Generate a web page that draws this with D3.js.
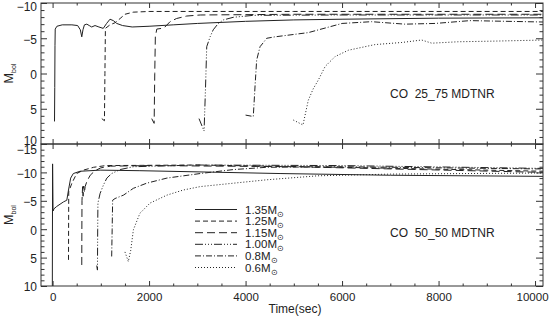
<!DOCTYPE html>
<html>
<head>
<meta charset="utf-8">
<script src="https://cdn.jsdelivr.net/npm/d3@7"></script>
<style>
  body { margin: 0; background: #fff; }
  svg text { font-family: "Liberation Sans", Arial, Helvetica, sans-serif; fill: #222; }
</style>
</head>
<body>
<div id="chart"></div>
<script>
// masses in the legend (same order as the line styles)
var masses = ["1.35", "1.25", "1.15", "1.00", "0.8", "0.6"];
var dashes = [null, "5,3", "8,4", "8,2,1,2,1,2,1,2", "6,2,1,2", "1,2"];

// x ticks
var xMajor = [0, 2000, 4000, 6000, 8000, 10000];

// CO 25_75 MDTNR  [time(sec), Mbol]
var co2575_135 = [[40,6.8],[45,2],[50,-4],[55,-6.3],[90,-6.7],[200,-6.9],[400,-6.9],[520,-6.8],[575,-6.2],[605,-5.2],[630,-6.2],[660,-6.9],[710,-7.0],[760,-6.8],[810,-6.6],[880,-6.8],[960,-6.6],[1050,-6.4],[1120,-7.1],[1190,-7.7],[1260,-7.5],[1330,-7.1],[1450,-6.8],[1650,-6.6],[2000,-6.7],[2500,-6.9],[3000,-7.1],[4000,-7.4],[5000,-7.6],[6000,-7.7],[8000,-7.85],[10200,-7.9]];
var co2575_125 = [[1020,6.4],[1075,6.7],[1085,0],[1095,-6.4],[1190,-6.9],[1295,-7.2],[1400,-7.8],[1500,-8.4],[1670,-8.7],[2000,-8.8],[5000,-8.8],[10200,-8.8]];
var co2575_115 = [[2055,6.4],[2105,7.07],[2118,0],[2130,-5.2],[2160,-6.3],[2260,-6.4],[2330,-6.6],[2435,-7.35],[2570,-7.8],[2780,-8.15],[3060,-8.3],[5000,-8.4],[10200,-8.4]];
var co2575_100 = [[3035,6.4],[3140,8.16],[3170,2],[3195,-3.8],[3265,-5.2],[3330,-6.2],[3435,-7.1],[3540,-7.6],[3745,-7.97],[4160,-8.25],[6000,-8.3],[10200,-8.3]];
var co2575_080 = [[4000,5.9],[4160,6.1],[4200,1.4],[4230,-1.9],[4300,-3.8],[4440,-5.0],[4610,-5.2],[5300,-5.8],[6000,-7.1],[6610,-7.35],[7300,-7.0],[7930,-7.1],[8650,-7.5],[10200,-7.3]];
var co2575_060 = [[4990,6.6],[5190,7.3],[5300,3.8],[5400,2.2],[5510,0.9],[5650,-1.0],[5855,-2.4],[6130,-3.3],[6680,-4.1],[7240,-4.4],[7650,-4.75],[7860,-4.3],[8400,-4.5],[9200,-4.6],[10200,-4.75]];

// CO 50_50 MDTNR  [time(sec), Mbol]
var co5050_135 = [[-5,10],[0,-11.5],[10,-3.2],[30,-3.6],[85,-4.0],[225,-4.8],[295,-5.1],[330,-6.9],[375,-9.0],[430,-9.8],[570,-10.2],[985,-10.4],[1810,-10.3],[4715,-9.8],[7000,-9.5],[10200,-9.3]];
var co5050_125 = [[330,5.4],[332,0],[335,-6.6],[400,-8.1],[500,-9.8],[640,-10.4],[850,-10.9],[1100,-11.2],[3000,-11.3],[6000,-10.9],[10200,-10.2]];
var co5050_115 = [[605,6.3],[607,0],[610,-5.1],[622,-7.5],[632,-5.8],[645,-7.6],[660,-6.4],[675,-7.5],[710,-8.4],[780,-9.5],[880,-10.3],[1000,-10.8],[1200,-11.1],[2000,-11.2],[5000,-11.0],[10200,-10.0]];
var co5050_100 = [[915,6.4],[930,7.2],[935,0],[940,-4.6],[985,-6.3],[1055,-7.8],[1125,-9.0],[1225,-9.8],[1400,-10.5],[1675,-11.0],[3000,-11.3],[6000,-11.2],[10200,-10.7]];
var co5050_080 = [[1225,4.8],[1235,0],[1245,-5.1],[1295,-5.4],[1470,-6.0],[1675,-7.2],[1950,-8.1],[2370,-9.0],[3060,-9.8],[3750,-10.5],[4440,-10.9],[6000,-11.0],[10200,-10.6]];
var co5050_060 = [[1500,4.0],[1570,5.7],[1620,3.7],[1675,0.1],[1810,-2.8],[2020,-4.6],[2370,-6.0],[2710,-6.9],[3060,-7.5],[3750,-8.1],[4440,-8.7],[5500,-9.4],[7000,-9.7],[10200,-9.9]];

var panels = [
  { label: "CO  25_75 MDTNR", yDomain: [-10, 10], yMajor: [-10, -5, 0, 5, 10], top: 3, bottom: 144,
    series: [co2575_135, co2575_125, co2575_115, co2575_100, co2575_080, co2575_060] },
  { label: "CO  50_50 MDTNR", yDomain: [-15, 10], yMajor: [-15, -10, -5, 0, 5, 10], top: 144, bottom: 286,
    series: [co5050_135, co5050_125, co5050_115, co5050_100, co5050_080, co5050_060] }
];

var W = 550, H = 317, L = 41, R = 543;

var svg = d3.select("#chart").append("svg")
    .attr("width", W)
    .attr("height", H);

var x = d3.scaleLinear().domain([-240, 10165]).range([L, R]);
var xMinor = d3.range(0, 10001, 500).filter(function(v){ return v % 2000 != 0; });

var line = d3.line();

panels.forEach(function(p, pi){
  var y = d3.scaleLinear().domain(p.yDomain).range([p.top, p.bottom]);
  var yMinor = d3.range(p.yDomain[0], p.yDomain[1] + 1, 1).filter(function(v){ return v % 5 != 0; });

  svg.append("clipPath").attr("id", "clip" + pi)
    .append("rect").attr("x", L).attr("y", p.top).attr("width", R - L).attr("height", p.bottom - p.top);

  // curves
  var g = svg.append("g").attr("clip-path", "url(#clip" + pi + ")");
  p.series.forEach(function(s, i){
    g.append("path")
      .attr("d", line(s.map(function(d){ return [x(d[0]), y(d[1])]; })))
      .attr("fill", "none")
      .attr("stroke", "#222")
      .attr("stroke-width", 1)
      .attr("stroke-dasharray", dashes[i]);
  });

  // left axis (labels) + right axis, ticks inside
  var left = svg.append("g").attr("transform", "translate(" + L + ",0)")
    .call(d3.axisLeft(y).tickValues(p.yMajor).tickSizeInner(-6).tickSizeOuter(0).tickPadding(4));
  left.selectAll("text").style("font-size", "12px").attr("dy", "0.4em");
  if (pi == 0) {
    left.selectAll("text").filter(function(d){ return d == 10; }).attr("dy", "0.05em");
    left.selectAll("text").filter(function(d){ return d == -10; }).attr("dy", "0.6em");
  }
  if (pi == 1) left.selectAll("text").filter(function(d){ return d == -15; }).attr("dy", "0.75em");
  svg.append("g").attr("transform", "translate(" + L + ",0)")
    .call(d3.axisLeft(y).tickValues(yMinor).tickFormat("").tickSizeInner(-3.5).tickSizeOuter(0));
  svg.append("g").attr("transform", "translate(" + R + ",0)")
    .call(d3.axisRight(y).tickValues(p.yMajor).tickFormat("").tickSizeInner(-7).tickSizeOuter(0));
  svg.append("g").attr("transform", "translate(" + R + ",0)")
    .call(d3.axisRight(y).tickValues(yMinor).tickFormat("").tickSizeInner(-3.5).tickSizeOuter(0));

  // top / bottom x ticks of this panel
  svg.append("g").attr("transform", "translate(0," + p.top + ")")
    .call(d3.axisTop(x).tickValues(xMajor).tickFormat("").tickSizeInner(-5).tickSizeOuter(0));
  svg.append("g").attr("transform", "translate(0," + p.top + ")")
    .call(d3.axisTop(x).tickValues(xMinor).tickFormat("").tickSizeInner(-2.5).tickSizeOuter(0));
  var bx = svg.append("g").attr("transform", "translate(0," + p.bottom + ")")
    .call(d3.axisBottom(x).tickValues(xMajor).tickFormat(pi == 1 ? d3.format("d") : "").tickSizeInner(-5).tickSizeOuter(0).tickPadding(7));
  bx.selectAll("text").style("font-size", "11.5px");
  bx.selectAll("text").filter(function(d){ return d == 10000; }).attr("dx", "-3");
  svg.append("g").attr("transform", "translate(0," + p.bottom + ")")
    .call(d3.axisBottom(x).tickValues(xMinor).tickFormat("").tickSizeInner(-2.5).tickSizeOuter(0));

  // frame
  svg.append("rect")
    .attr("x", L).attr("y", p.top)
    .attr("width", R - L).attr("height", p.bottom - p.top)
    .attr("fill", "none").attr("stroke", "#333").attr("stroke-width", 1);

  // panel label
  svg.append("text")
    .attr("x", 390).attr("y", y(pi == 0 ? 3.5 : 1.3))
    .style("font-size", "12px")
    .style("white-space", "pre")
    .text(p.label);

  // y title
  var yt = svg.append("text")
    .attr("transform", "translate(13," + ((p.top + p.bottom) / 2) + ") rotate(-90)")
    .attr("text-anchor", "middle")
    .style("font-size", "12.5px");
  yt.append("tspan").text("M");
  yt.append("tspan").attr("dy", 3).style("font-size", "7px").text("bol");
});

svg.selectAll(".domain").remove();
svg.selectAll(".tick line").attr("stroke", "#333");
svg.selectAll(".tick text").attr("fill", "#222");

// legend
var leg = svg.append("g");
masses.forEach(function(m, i){
  var ly = 209.5 + i * 11.6;
  leg.append("line")
    .attr("x1", 195).attr("x2", 237).attr("y1", ly).attr("y2", ly)
    .attr("stroke", "#222").attr("stroke-width", 1)
    .attr("stroke-dasharray", dashes[i]);
  var t = leg.append("text").attr("x", 245).attr("y", ly + 4).style("font-size", "11.5px");
  t.append("tspan").text(m + "M");
  t.append("tspan").attr("dy", 3).style("font-size", "8px").text("\u2299");
});

// x title
svg.append("text")
  .attr("x", 295).attr("y", 313)
  .attr("text-anchor", "middle")
  .style("font-size", "12px")
  .text("Time(sec)");
</script>
</body>
</html>
